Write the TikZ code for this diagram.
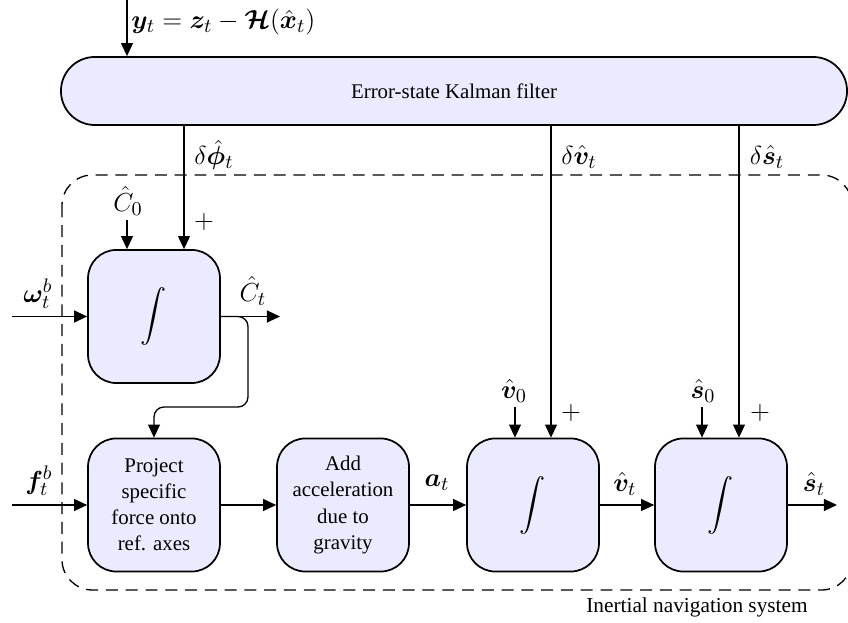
\documentclass[tikz,border=0pt]{standalone}
\usepackage{amsmath,bm}
\usepackage{fontspec}
\setmainfont{Liberation Serif}
\usetikzlibrary{arrows.meta}
\begin{document}
\begin{tikzpicture}[x=0.46pt,y=-0.46pt,
  txt/.style={font={\fontsize{9.6}{12}\selectfont}},
  blk/.style={txt, draw, thick, fill=blue!8, rounded corners=13pt, minimum width=60.7pt, minimum height=61.2pt, align=center, inner sep=2pt},
  conn/.style={semithick, -{Triangle[length=6pt,width=5.5pt]}},
  lbl/.style={inner sep=1pt, font={\fontsize{12.5}{15}\selectfont}},
  region/.style={semithick, dash pattern=on 5.5pt off 3.6pt, rounded corners=14pt}]
\useasboundingbox (0,0) rectangle (848,623);

% region of the INS
\draw[region] (62,175) rectangle (852,590);
\node[font={\fontsize{9.8}{12}\selectfont}, inner sep=0pt] (ins) at (697,607) {Inertial navigation system};

% Kalman filter
\node[blk, minimum width=361.6pt, minimum height=31.3pt, rounded corners=15.6pt] (ekf) at (454,91) {Error-state Kalman filter};

% blocks
\node[blk] (int1) at (154,316.5) {\large$\displaystyle\int$};
\node[blk] (proj) at (154,505) {Project\\specific\\force onto\\ref. axes};
\node[blk] (add) at (343,505) {Add\\acceleration\\due to\\gravity};
\node[blk] (int2) at (533,505) {\large$\displaystyle\int$};
\node[blk] (int3) at (721,505) {\large$\displaystyle\int$};

% measurement input
\coordinate (yin) at (127,0);
\draw[conn] (yin) -- (yin |- ekf.north);
\node[lbl, anchor=west, inner sep=0pt] (ylbl) at (131,22) {$\bm{y}_t = \bm{z}_t - \bm{\mathcal{H}}(\hat{\bm{x}}_t)$};

% corrections
\coordinate (xphi) at (184,0);
\coordinate (xv) at (551,0);
\coordinate (xs) at (739,0);
\draw[conn] (ekf.south -| xphi) -- (int1.north -| xphi);
\draw[conn] (ekf.south -| xv) -- (int2.north -| xv);
\draw[conn] (ekf.south -| xs) -- (int3.north -| xs);
\node[lbl] (dphi) at (214,155) {$\delta\hat{\bm{\phi}}_t$};
\node[lbl] (dv) at (579,157) {$\delta\hat{\bm{v}}_t$};
\node[lbl] (ds) at (767,157) {$\delta\hat{\bm{s}}_t$};
\node[lbl] (p1) at (204,222) {$+$};
\node[lbl] (p2) at (571,413) {$+$};
\node[lbl] (p3) at (760,413) {$+$};

% initial values
\node[lbl, inner sep=2pt] (c0) at (128,201) {$\hat{C}_0$};
\node[lbl, inner sep=2pt] (v0) at (514,391) {$\hat{\bm{v}}_0$};
\node[lbl, inner sep=2pt] (s0) at (703,391) {$\hat{\bm{s}}_0$};
\coordinate (xc0) at (127,0);
\coordinate (xv0) at (515,0);
\coordinate (xs0) at (702,0);
\draw[conn] (c0.south -| xc0) -- (int1.north -| xc0);
\draw[conn] (v0.south -| xv0) -- (int2.north -| xv0);
\draw[conn] (s0.south -| xs0) -- (int3.north -| xs0);

% inputs
\coordinate (omin) at (12,316.5);
\coordinate (fin) at (12,505);
\draw[conn] (omin) -- (int1.west);
\draw[conn] (fin) -- (proj.west);
\node[lbl] (om) at (38,294) {$\bm{\omega}_t^b$};
\node[lbl] (fb) at (39,481) {$\bm{f}_t^b$};

% attitude output and feedback
\coordinate (cout) at (280,316.5);
\draw[conn] (int1.east) -- (cout);
\node[lbl] (ct) at (253,291) {$\hat{C}_t$};
\coordinate (fbA) at (248,316.5);
\coordinate (fbB) at (248,407);
\draw[conn, rounded corners=4.6pt] (int1.east) -- (fbA) -- (fbB) -| (proj.north);

% chain
\draw[conn] (proj.east) -- (add.west);
\draw[conn] (add.east) -- (int2.west);
\draw[conn] (int2.east) -- (int3.west);
\coordinate (sout) at (837,505);
\draw[conn] (int3.east) -- (sout);
\node[lbl] (at) at (437,483) {$\bm{a}_t$};
\node[lbl] (vt) at (625,484) {$\hat{\bm{v}}_t$};
\node[lbl] (st) at (814,484) {$\hat{\bm{s}}_t$};
\end{tikzpicture}
\end{document}
